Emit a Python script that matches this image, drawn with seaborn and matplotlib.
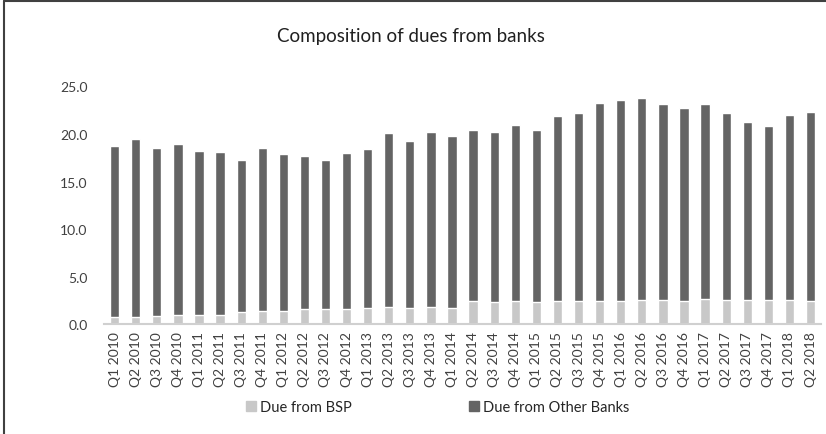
import numpy as np
import pandas as pd
import matplotlib
matplotlib.use("Agg")
import matplotlib.pyplot as plt
from matplotlib.lines import Line2D
import seaborn as sns

# quarters Q1 2010 .. Q2 2018
quarters = [f"Q{q} {y}" for y in range(2010, 2019) for q in range(1, 5)][:34]

due_bsp = [0.81, 0.81, 0.88, 0.95, 0.95, 1.02, 1.30, 1.37, 1.44, 1.65,
           1.65, 1.65, 1.72, 1.79, 1.76, 1.86, 1.76, 2.43, 2.36, 2.43,
           2.36, 2.43, 2.50, 2.43, 2.46, 2.53, 2.53, 2.46, 2.64, 2.60,
           2.53, 2.53, 2.53, 2.50]

total = [18.78, 19.48, 18.53, 18.92, 18.22, 18.15, 17.23, 18.50, 17.93, 17.69,
         17.30, 18.00, 18.43, 20.15, 19.30, 20.19, 19.75, 20.40, 20.19, 20.93,
         20.43, 21.94, 22.26, 23.31, 23.56, 23.81, 23.14, 22.72, 23.17, 22.22,
         21.27, 20.89, 21.98, 22.33]

due_other = [t - b for t, b in zip(total, due_bsp)]

df = pd.DataFrame({"quarter": quarters, "bsp": due_bsp, "other": due_other})
df["total"] = df["bsp"] + df["other"]

sns.set_style("white")
plt.rcParams["font.family"] = ["Lato", "DejaVu Sans"]

c_bsp = "#c8c8c8"
c_other = "#646464"

fig = plt.figure(figsize=(8.26, 4.35), dpi=100)
ax = fig.add_axes([0.126, 0.252, 0.868, 0.547])

# stacked: draw total first then BSP on top of it
sns.barplot(data=df, x="quarter", y="total", color=c_other, width=0.44,
            saturation=1, ax=ax)
sns.barplot(data=df, x="quarter", y="bsp", color=c_bsp, width=0.44,
            saturation=1, ax=ax)

ax.set_ylim(0, 25)
ax.set_xlim(-0.5, len(quarters) - 0.5)
ax.set_yticks(np.arange(0, 25.1, 5))
ax.set_yticklabels([f"{v:.1f}" for v in np.arange(0, 25.1, 5)],
                   fontsize=10, color="#404040")
ax.tick_params(axis="x", rotation=90, labelsize=10, labelcolor="#404040", length=0, pad=5)
ax.tick_params(axis="y", length=0, pad=12)
ax.set_xlabel("")
ax.set_ylabel("")
for s in ["top", "right", "left"]:
    ax.spines[s].set_visible(False)
ax.spines["bottom"].set_color("#d0d0d0")
ax.spines["bottom"].set_linewidth(1.5)

fig.text(0.497, 0.915, "Composition of dues from banks", ha="center", va="center",
         fontsize=13.5, color="#202020")

handles = [plt.Rectangle((0, 0), 1, 1, color=c_bsp),
           plt.Rectangle((0, 0), 1, 1, color=c_other)]
fig.legend(handles, ["Due from BSP", "Due from Other Banks"], loc="center",
           bbox_to_anchor=(0.53, 0.062), ncol=2, frameon=False, fontsize=10.5,
           handlelength=0.7, handleheight=0.7, handletextpad=0.3, columnspacing=8)

# chart frame (top and left only visible)
fig.add_artist(Line2D([0.005, 1.0], [0.995, 0.995], color="#404040", lw=1.5,
                      transform=fig.transFigure))
fig.add_artist(Line2D([0.005, 0.005], [0.0, 0.995], color="#404040", lw=1.5,
                      transform=fig.transFigure))

fig.savefig("out.png", dpi=100)
